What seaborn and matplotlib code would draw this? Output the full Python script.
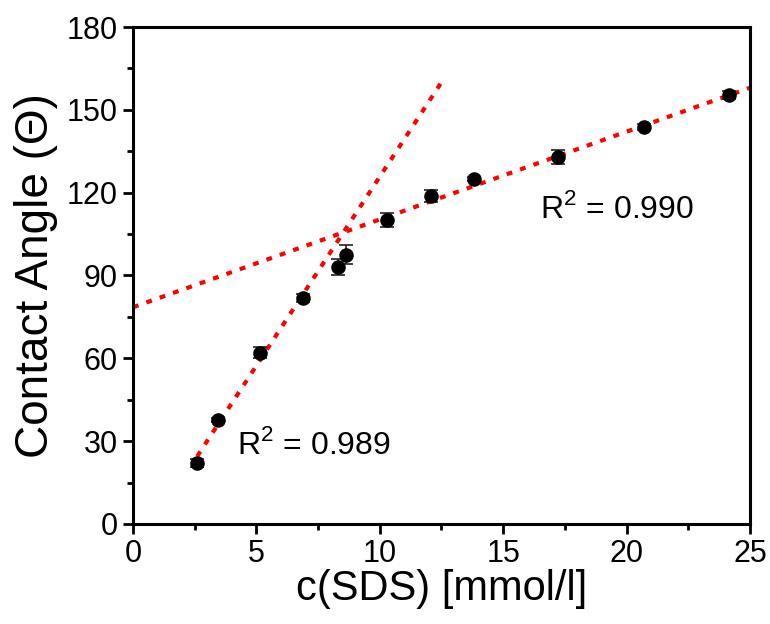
import pandas as pd
import matplotlib
matplotlib.use("Agg")
import matplotlib.pyplot as plt
from matplotlib.ticker import MultipleLocator
import seaborn as sns

# measured points
conc = [2.59, 3.44, 5.15, 6.89, 8.31, 8.63, 10.29, 12.07, 13.82, 17.22, 20.70, 24.15]
angle = [22.1, 37.7, 62.0, 81.9, 93.1, 97.5, 110.1, 118.8, 125.0, 133.0, 143.8, 155.4]
angle_err = [1.5, 0.8, 2.0, 1.5, 3.0, 3.5, 2.5, 2.0, 0.8, 2.5, 1.2, 1.5]

# linear fits (end points)
fit1_x = [2.6, 12.5]
fit1_y = [24.5, 160.0]
fit2_x = [0.0, 25.0]
fit2_y = [78.5, 158.0]

r2_labels = ["R$^2$ = 0.989", "R$^2$ = 0.990"]

sns.set_style("ticks")
plt.rcParams['font.family'] = ['Liberation Sans', 'DejaVu Sans']
plt.rcParams['mathtext.fontset'] = 'custom'
plt.rcParams['mathtext.rm'] = 'Liberation Sans'
for k in ('text.color', 'axes.labelcolor', 'xtick.color', 'ytick.color', 'axes.edgecolor'):
    plt.rcParams[k] = 'black'

df = pd.DataFrame({'c': conc, 'angle': angle, 'err': angle_err})
fit1 = pd.DataFrame({'x': fit1_x, 'y': fit1_y})
fit2 = pd.DataFrame({'x': fit2_x, 'y': fit2_y})

fig = plt.figure(figsize=(7.7, 6.24), dpi=100)
ax = fig.add_axes([0.1727, 0.1603, 0.8013, 0.7964])

# fit lines
for fit in (fit1, fit2):
    sns.lineplot(x='x', y='y', data=fit, ax=ax, color='red', linewidth=3.0, zorder=1)
for ln in ax.lines:
    ln.set_dashes((1.4, 2.0))

# error bars + points
ax.errorbar(df['c'], df['angle'], yerr=df['err'], fmt='none', ecolor='#222222',
            elinewidth=1.2, capsize=5, capthick=1.2, zorder=2)
sns.scatterplot(x='c', y='angle', data=df, ax=ax, color='black', s=110,
                edgecolor='black', linewidth=0, zorder=3)

ax.text(4.2, 28.5, r2_labels[0], fontsize=23, ha='left', va='center')
ax.text(16.5, 114, r2_labels[1], fontsize=23, ha='left', va='center')

ax.set_xlim(0, 25)
ax.set_ylim(0, 180)
ax.xaxis.set_major_locator(MultipleLocator(5))
ax.xaxis.set_minor_locator(MultipleLocator(2.5))
ax.yaxis.set_major_locator(MultipleLocator(30))
ax.yaxis.set_minor_locator(MultipleLocator(15))
ax.tick_params(which='major', direction='out', length=7, width=2, labelsize=22, pad=4)
ax.tick_params(which='minor', direction='out', length=4, width=2)

for s in ax.spines.values():
    s.set_linewidth(2.2)
    s.set_visible(True)

ax.set_xlabel('c(SDS) [mmol/l]', fontsize=30, labelpad=0)
ax.set_ylabel('Contact Angle (\u0398)', fontsize=33, labelpad=6)

fig.savefig('out.png', dpi=100)
